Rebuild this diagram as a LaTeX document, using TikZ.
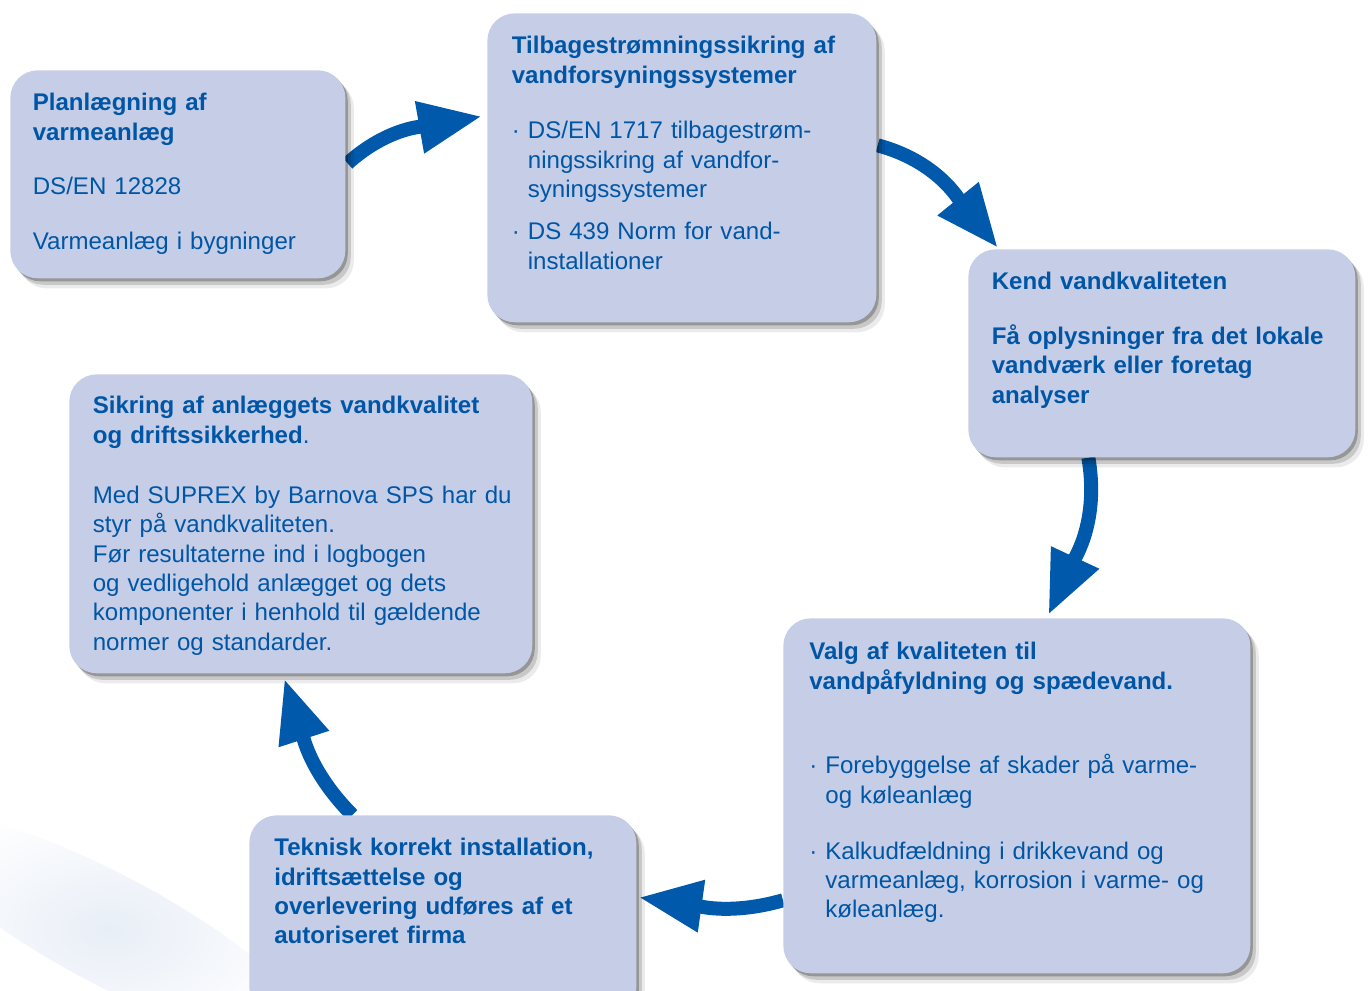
\documentclass[tikz,border=0pt]{standalone}
\usepackage{fontspec}
\setmainfont{Liberation Sans}
\usetikzlibrary{arrows.meta,positioning,calc,shadows,backgrounds}
\definecolor{cardfill}{RGB}{198,205,230}
\definecolor{textblue}{RGB}{0,86,166}
\definecolor{arrowblue}{RGB}{0,89,170}
\definecolor{swoosh}{RGB}{232,238,247}
\newcommand{\dotitem}{·\ }
\newcommand{\dotpad}{\phantom{·\ }}
\tikzset{
  card/.style={anchor=north west, fill=cardfill, rounded corners=0.55cm, inner sep=0pt,
    drop shadow={shadow xshift=0.17cm, shadow yshift=-0.2cm, fill=black, opacity=0.08},
    drop shadow={shadow xshift=0.11cm, shadow yshift=-0.13cm, fill=black, opacity=0.15},
    drop shadow={shadow xshift=0.05cm, shadow yshift=-0.06cm, fill=black, opacity=0.25}},
  cardtext/.style={anchor=north west, inner sep=0pt, align=left, text width=9cm,
    text=textblue, font=\fontsize{13.7}{16.7}\selectfont},
  flow/.style={line width=0.28cm, draw=arrowblue, -{Triangle[length=1.27cm,width=0.98cm]}}
}

\begin{document}
\begin{tikzpicture}[x=0.02cm,y=0.02cm]
\useasboundingbox (0,0) rectangle (1368,990);
\clip (0,0) rectangle (1368,990);
% the six steps
\node[card, minimum width=6.7cm, minimum height=4.16cm] (plan) at (10,920) {};
\node[card, minimum width=7.78cm, minimum height=6.18cm] (backflow) at (487,977) {};
\node[card, minimum width=7.74cm, minimum height=4.16cm] (quality) at (968,741) {};
\node[card, minimum width=9.26cm, minimum height=5.98cm] (secure) at (69,616) {};
\node[card, minimum width=9.34cm, minimum height=7.1cm] (choice) at (783,372) {};
\node[card, minimum width=7.74cm, minimum height=4cm] (install) at (249,175) {};
% texts
\node[cardtext, below right=0.46cm and 0.45cm of plan.north west] (plan-txt)
  {\textbf{Planlægning af\\varmeanlæg}\\[0.51cm]DS/EN 12828\\[0.51cm]Varmeanlæg i bygninger};
\node[cardtext, below right=0.46cm and 0.49cm of backflow.north west] (backflow-txt)
  {\textbf{Tilbagestrømningssikring af\\vandforsyningssystemer}\\[0.53cm]%
   \dotitem DS/EN 1717 tilbagestrøm-\\\dotpad ningssikring af vandfor-\\\dotpad syningssystemer\\[0.26cm]%
   \dotitem DS 439 Norm for vand-\\\dotpad installationer};
\node[cardtext, below right=0.46cm and 0.47cm of quality.north west] (quality-txt)
  {\textbf{Kend vandkvaliteten\\[0.51cm]Få oplysninger fra det lokale\\vandværk eller foretag\\analyser}};
\node[cardtext, below right=0.44cm and 0.47cm of secure.north west] (secure-txt)
  {\textbf{Sikring af anlæggets vandkvalitet\\og driftssikkerhed}.\\[0.62cm]%
   Med SUPREX by Barnova SPS har du\\styr på vandkvaliteten.\\Før resultaterne ind i logbogen\\%
   og vedligehold anlægget og dets\\komponenter i henhold til gældende\\normer og standarder.};
\node[cardtext, below right=0.48cm and 0.52cm of choice.north west] (choice-txt)
  {\textbf{Valg af kvaliteten til\\vandpåfyldning og spædevand.}\\[1.11cm]%
   \dotitem Forebyggelse af skader på varme-\\\dotpad og køleanlæg\\[0.53cm]%
   \dotitem Kalkudfældning i drikkevand og\\\dotpad varmeanlæg, korrosion i varme- og\\\dotpad køleanlæg.};
\node[cardtext, below right=0.46cm and 0.5cm of install.north west] (install-txt)
  {\textbf{Teknisk korrekt installation,\\idriftsættelse og\\overlevering udføres af et\\autoriseret firma}};
% arrows behind the cards
\begin{scope}[on background layer]
\shade[rotate around={-28:(110,60)}, inner color=swoosh, outer color=white] (110,60) ellipse (4.5cm and 1.1cm);
\draw[flow] ($(plan.east)+(2,11)$) to[out=42,in=190] ($(backflow.west)+(-5,51.5)$);
\draw[flow] ($(backflow.east)+(1,22.5)$) to[out=-15,in=129] ($(quality.north west)+(30,1)$);
\draw[flow] ($(quality.south)+(-73.5,0)$) to[out=-80,in=65] ($(choice.north)+(31.5,3)$);
\draw[flow] ($(choice.west)+(0,-104.5)$) to[out=196,in=-8] ($(install.east)+(2,18)$);
\draw[flow] ($(install.north)+(-90.5,0)$) to[out=135,in=-72] ($(secure.south)+(-16.5,-5)$);
\end{scope}
\end{tikzpicture}
\end{document}
